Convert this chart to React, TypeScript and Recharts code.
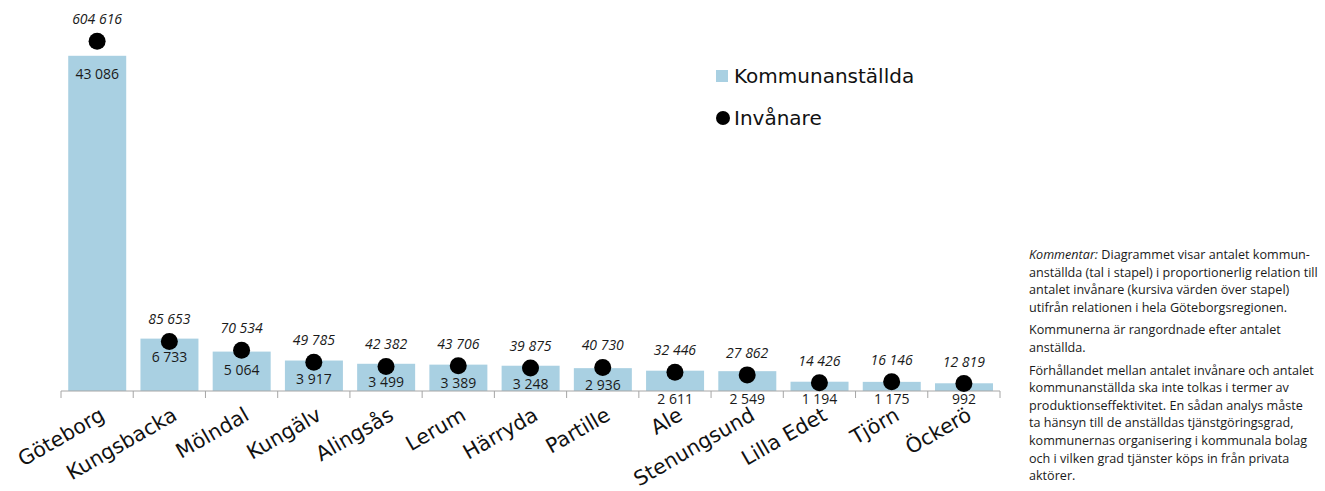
import { ComposedChart, Bar, Line, XAxis, YAxis } from 'recharts'

const kommuner = ['Göteborg', 'Kungsbacka', 'Mölndal', 'Kungälv', 'Alingsås', 'Lerum', 'Härryda', 'Partille', 'Ale', 'Stenungsund', 'Lilla Edet', 'Tjörn', 'Öckerö']
const anstallda = [43086, 6733, 5064, 3917, 3499, 3389, 3248, 2936, 2611, 2549, 1194, 1175, 992]
const invanare = [604616, 85653, 70534, 49785, 42382, 43706, 39875, 40730, 32446, 27862, 14426, 16146, 12819]

const BAR_COLOR = '#a9d0e2'
const AXIS_COLOR = '#a6a6a6'
const FONT = '"Open Sans", "Liberation Sans", Arial, sans-serif'
const WIDE_FONT = '"DejaVu Sans", Verdana, sans-serif'
const Y_MAX = 50000

// dots are drawn in proportion to the relation for the whole region
const sumAnst = anstallda.reduce((a, b) => a + b, 0)
const sumInv = invanare.reduce((a, b) => a + b, 0)
const INV_MAX = Y_MAX * sumInv / sumAnst

const data = kommuner.map((name, i) => ({ name, anstallda: anstallda[i], invanare: invanare[i] }))

const fmt = (v: number) => String(v).replace(/\B(?=(\d{3})+(?!\d))/g, ' ')

function BarShape(props: any) {
  const { x, y, width, height, payload } = props
  const inside = payload.anstallda >= 2900
  const bottom = y + height
  const ty = inside ? Math.min(y + 23, bottom - 1) : bottom + 13
  return (
    <g>
      <rect x={x} y={y} width={width} height={height} fill={BAR_COLOR} />
      <text x={x + width / 2} y={ty} textAnchor="middle" fontSize={14} fontFamily={FONT} fill="#1a1a1a">
        {fmt(payload.anstallda)}
      </text>
    </g>
  )
}

function renderDot(props: any) {
  const { cx, cy, payload, index } = props
  return (
    <g key={`dot-${index}`}>
      <circle cx={cx} cy={cy} r={8.5} fill="#000" />
      <text x={cx} y={cy - 17} textAnchor="middle" fontSize={14} fontStyle="italic" fontFamily={FONT} fill="#1a1a1a">
        {fmt(payload.invanare)}
      </text>
    </g>
  )
}

function CategoryTick(props: any) {
  const { x, y, payload, index } = props
  const half = payload?.offset ?? 36.1
  const tx = x + 9
  const ty = y + 28
  return (
    <g>
      <line x1={x - half} y1={y} x2={x - half} y2={y + 7} stroke={AXIS_COLOR} />
      {index === kommuner.length - 1 && (
        <line x1={x + half} y1={y} x2={x + half} y2={y + 7} stroke={AXIS_COLOR} />
      )}
      <text
        x={tx}
        y={ty}
        textAnchor="end"
        fontSize={20.5}
        fontFamily={WIDE_FONT}
        fill="#111"
        transform={`rotate(-30, ${tx}, ${ty})`}
      >
        {payload.value}
      </text>
    </g>
  )
}

const kommentar = [
  [
    <><i>Kommentar:</i> Diagrammet visar antalet kommun-</>,
    'anställda (tal i stapel) i proportionerlig relation till',
    'antalet invånare (kursiva värden över stapel)',
    'utifrån relationen i hela Göteborgsregionen.',
  ],
  ['Kommunerna är rangordnade efter antalet', 'anställda.'],
  [
    'Förhållandet mellan antalet invånare och antalet',
    'kommunanställda ska inte tolkas i termer av',
    'produktionseffektivitet. En sådan analys måste',
    'ta hänsyn till de anställdas tjänstgöringsgrad,',
    'kommunernas organisering i kommunala bolag',
    'och i vilken grad tjänster köps in från privata',
    'aktörer.',
  ],
]

export default function App() {
  return (
    <div style={{ position: 'absolute', left: 0, top: 0, width: 1325, height: 491, background: '#fff', overflow: 'hidden' }}>
      <ComposedChart
        width={1010}
        height={491}
        data={data}
        margin={{ top: 2, right: 10, left: 61, bottom: 0 }}
        barCategoryGap="10%"
      >
        <XAxis
          dataKey="name"
          height={100}
          interval={0}
          tickLine={false}
          tickSize={0}
          tickMargin={0}
          axisLine={{ stroke: AXIS_COLOR }}
          tick={<CategoryTick />}
        />
        <YAxis yAxisId="anst" hide domain={[0, Y_MAX]} />
        <YAxis yAxisId="inv" hide domain={[0, INV_MAX]} orientation="right" />
        <Bar yAxisId="anst" dataKey="anstallda" shape={<BarShape />} isAnimationActive={false} />
        <Line yAxisId="inv" dataKey="invanare" stroke="none" dot={renderDot} activeDot={false} isAnimationActive={false} />
      </ComposedChart>

      <div style={{ position: 'absolute', left: 716, top: 64, fontFamily: WIDE_FONT, fontSize: 20, color: '#111' }}>
        <div style={{ display: 'flex', alignItems: 'center', height: 24 }}>
          <span style={{ width: 12, height: 12, background: BAR_COLOR, display: 'inline-block', marginRight: 6 }} />
          Kommunanställda
        </div>
        <div style={{ display: 'flex', alignItems: 'center', height: 24, marginTop: 18 }}>
          <span style={{ width: 14, height: 14, borderRadius: '50%', background: '#000', display: 'inline-block', marginRight: 4 }} />
          Invånare
        </div>
      </div>

      <div style={{ position: 'absolute', left: 1029, top: 246, fontFamily: FONT, fontSize: 12.6, lineHeight: '17.6px', color: '#1a1a1a' }}>
        {kommentar.map((para, pi) => (
          <div key={pi} style={{ marginBottom: 5 }}>
            {para.map((line, li) => (
              <div key={li} style={{ whiteSpace: 'nowrap' }}>{line}</div>
            ))}
          </div>
        ))}
      </div>
    </div>
  )
}
